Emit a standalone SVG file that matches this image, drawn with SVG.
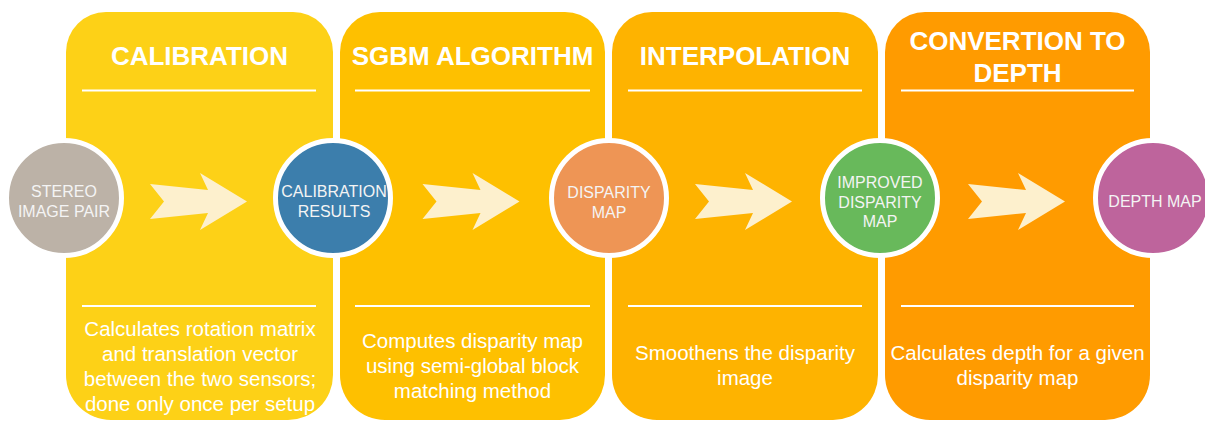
<svg xmlns="http://www.w3.org/2000/svg" width="1205" height="421" viewBox="0 0 1205 421">
<style>
.title{font-family:"Liberation Sans",Arial,sans-serif;font-weight:bold;font-size:26px;fill:#ffffff;text-anchor:middle}
.desc{font-family:"Liberation Sans",Arial,sans-serif;font-size:20.5px;fill:#ffffff;text-anchor:middle}
.ctext{font-family:"Liberation Sans",Arial,sans-serif;font-size:16px;fill:#f4f4f4;text-anchor:middle}
.rule{stroke:#ffffff;stroke-width:2.2;fill:none}
.ring{stroke:#ffffff;stroke-width:5}
.arrow{fill:#fdf0cd}
</style>
<defs>
<path id="arr" d="M0,0 L-47,-28.5 L-39,-11.5 L-97,-17.5 L-83,0 L-97,17.5 L-39,11.5 L-47,28.5 Z"/>
</defs>
<rect width="1205" height="421" fill="#ffffff"/>
<g id="panel-calibration">
<path d="M66,52 A40,40 0 0 1 106,12 H293 A40,40 0 0 1 333,52 V375 A45,45 0 0 1 288,420 H111 A45,45 0 0 1 66,375 Z" fill="#fdd117"/>
<text class="title" x="199.5" y="65">CALIBRATION</text>
<line class="rule" x1="82" y1="90.5" x2="316" y2="90.5"/>
<line class="rule" x1="82" y1="306" x2="316" y2="306"/>
<text class="desc" x="200" y="336">Calculates rotation matrix</text>
<text class="desc" x="200" y="361">and translation vector</text>
<text class="desc" x="200" y="386">between the two sensors;</text>
<text class="desc" x="200" y="411">done only once per setup</text>
</g>
<g id="panel-sgbm">
<path d="M340,52 A40,40 0 0 1 380,12 H565 A40,40 0 0 1 605,52 V375 A45,45 0 0 1 560,420 H385 A45,45 0 0 1 340,375 Z" fill="#fec000"/>
<text class="title" x="472.5" y="65">SGBM ALGORITHM</text>
<line class="rule" x1="355" y1="90.5" x2="590" y2="90.5"/>
<line class="rule" x1="355" y1="306" x2="590" y2="306"/>
<text class="desc" x="472.5" y="348">Computes disparity map</text>
<text class="desc" x="472.5" y="373">using semi-global block</text>
<text class="desc" x="472.5" y="398">matching method</text>
</g>
<g id="panel-interpolation">
<path d="M612,52 A40,40 0 0 1 652,12 H838 A40,40 0 0 1 878,52 V375 A45,45 0 0 1 833,420 H657 A45,45 0 0 1 612,375 Z" fill="#feb300"/>
<text class="title" x="745" y="65">INTERPOLATION</text>
<line class="rule" x1="628" y1="90.5" x2="862" y2="90.5"/>
<line class="rule" x1="628" y1="306" x2="862" y2="306"/>
<text class="desc" x="745" y="360">Smoothens the disparity</text>
<text class="desc" x="745" y="385">image</text>
</g>
<g id="panel-depth">
<path d="M885,52 A40,40 0 0 1 925,12 H1110 A40,40 0 0 1 1150,52 V375 A45,45 0 0 1 1105,420 H930 A45,45 0 0 1 885,375 Z" fill="#ff9b00"/>
<text class="title" x="1017.5" y="50">CONVERTION TO</text>
<text class="title" x="1017.5" y="82">DEPTH</text>
<line class="rule" x1="901" y1="90.5" x2="1134" y2="90.5"/>
<line class="rule" x1="901" y1="306" x2="1134" y2="306"/>
<text class="desc" x="1017.5" y="360">Calculates depth for a given</text>
<text class="desc" x="1017.5" y="385">disparity map</text>
</g>
<g id="connectors">
<use href="#arr" class="arrow" transform="translate(247,201.5)"/>
<use href="#arr" class="arrow" transform="translate(519.5,201.5)"/>
<use href="#arr" class="arrow" transform="translate(792,201.5)"/>
<use href="#arr" class="arrow" transform="translate(1065,201.5)"/>
</g>
<g id="node-stereo">
<circle class="ring" cx="64" cy="198" r="57.5" fill="#bcb2a7"/>
<text class="ctext" x="64" y="197">STEREO</text>
<text class="ctext" x="64" y="217">IMAGE PAIR</text>
</g>
<g id="node-calibration-results">
<circle class="ring" cx="333" cy="198" r="57.5" fill="#3c7eac"/>
<text class="ctext" x="334" y="197">CALIBRATION</text>
<text class="ctext" x="334" y="217">RESULTS</text>
</g>
<g id="node-disparity">
<circle class="ring" cx="609" cy="198" r="57.5" fill="#ee9555"/>
<text class="ctext" x="609" y="198">DISPARITY</text>
<text class="ctext" x="609" y="218">MAP</text>
</g>
<g id="node-improved">
<circle class="ring" cx="880" cy="198" r="57.5" fill="#68b95b"/>
<text class="ctext" x="880" y="188">IMPROVED</text>
<text class="ctext" x="880" y="207.5">DISPARITY</text>
<text class="ctext" x="880" y="227">MAP</text>
</g>
<g id="node-depth-map">
<circle class="ring" cx="1153" cy="198" r="57.5" fill="#be649c"/>
<text class="ctext" x="1155" y="207">DEPTH MAP</text>
</g>
</svg>
